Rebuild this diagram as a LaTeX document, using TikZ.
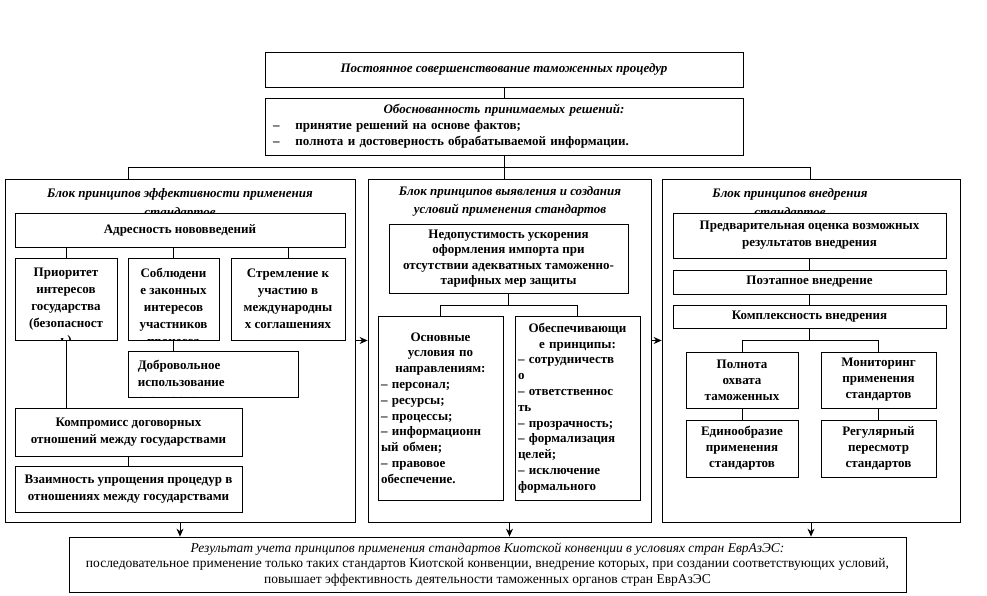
\documentclass[tikz,border=0pt]{standalone}
\usepackage{fontspec}
\setmainfont{Liberation Serif}
\usetikzlibrary{arrows.meta,positioning,calc}

\begin{document}
\begin{tikzpicture}[
    x=1pt, y=-1pt,
    box/.style={rectangle, draw=black, fill=white, line width=0.8pt, align=center, inner sep=2pt, font=\bfseries\fontsize{13}{17}\selectfont},
    frame/.style={rectangle, draw=black, line width=0.8pt, inner sep=0pt},
    blocktitle/.style={align=center, inner sep=0pt, font=\bfseries\itshape\fontsize{13}{18}\selectfont},
    txt/.style={align=center, inner sep=0pt, font=\bfseries\fontsize{13}{17}\selectfont},
    line/.style={draw=black, line width=0.8pt},
    arrow/.style={-{Stealth[length=8pt,width=7pt]}, line width=0.8pt, draw=black}
]
\useasboundingbox (0,0) rectangle (987,595);

% Top level
\node[box, minimum width=478, minimum height=35, font=\bfseries\itshape\fontsize{13}{17}\selectfont] (top) at (504,69.5) {Постоянное совершенствование таможенных процедур};
\node[box, minimum width=478, minimum height=57, text width=462, align=left, font=\bfseries\fontsize{13}{16}\selectfont] (obosn) at (504,126.5) {\centering{\itshape Обоснованность принимаемых решений:}\par\raggedright –\hspace{16pt}принятие решений на основе фактов;\\–\hspace{16pt}полнота и достоверность обрабатываемой информации.};
\draw[line] (top) -- (obosn);

% Blocks
\node[frame, minimum width=350, minimum height=343] (blkL) at (180,350.5) {};
\node[frame, minimum width=283, minimum height=343] (blkM) at (509.5,350.5) {};
\node[frame, minimum width=298, minimum height=343] (blkR) at (811,350.5) {};
\coordinate (hub) at (504,167);
\coordinate (hubL) at (128,167);
\coordinate (hubR) at (810,167);
\draw[line] (obosn.south) -- (hub);
\draw[line] (hubL) -- (hubR);
\draw[line] (hubL) -- (hubL |- blkL.north);
\draw[line] (hub) -- (hub |- blkM.north);
\draw[line] (hubR) -- (hubR |- blkR.north);
\node[blocktitle, font=\bfseries\itshape\fontsize{13}{19}\selectfont] (tL) at (180,203.5) {Блок принципов эффективности применения\\стандартов};
\node[blocktitle] (tM) at (510,201) {Блок принципов выявления и создания\\условий применения стандартов};
\node[blocktitle, font=\bfseries\itshape\fontsize{13}{19}\selectfont] (tR) at (790,203.5) {Блок принципов внедрения\\стандартов};

% Left block
\node[box, minimum width=330, minimum height=34] (adr) at (180,230) {Адресность нововведений};
\node[frame, fill=white, minimum width=102, minimum height=82] (prio) at (66,299) {};
\node[frame, fill=white, minimum width=91, minimum height=82] (sobl) at (173.5,299) {};
\node[box, minimum width=114, minimum height=82] (strem) at (288,299) {Стремление к\\участию в\\международны\\х соглашениях};
\begin{scope}
    \clip (prio.south west) rectangle (prio.north east);
    \node[txt] at ([yshift=-9pt]prio.center) {Приоритет\\интересов\\государства\\(безопасност\\ь)};
\end{scope}
\begin{scope}
    \clip (sobl.south west) rectangle (sobl.north east);
    \node[txt] at ([yshift=-9pt]sobl.center) {Соблюдени\\е законных\\интересов\\участников\\процесса};
\end{scope}
\draw[line] (prio.north) -- (prio.north |- adr.south);
\draw[line] (sobl.north) -- (sobl.north |- adr.south);
\draw[line] (strem.north) -- (strem.north |- adr.south);
\node[frame, fill=white, minimum width=170, minimum height=46] (dobr) at (213,374) {};
\begin{scope}
    \clip (dobr.south west) rectangle (dobr.north east);
    \node[txt, align=left, anchor=north west] at ([xshift=10pt, yshift=-9pt]dobr.north west) {Добровольное\\использование\\стандартов};
\end{scope}
\draw[line] (sobl.south) -- (sobl.south |- dobr.north);
\node[box, minimum width=227, minimum height=48] (komp) at (128.5,432) {Компромисс договорных\\отношений между государствами};
\draw[line] (prio.south) -- (prio.south |- komp.north);
\node[box, minimum width=227, minimum height=46] (vzai) at (128.5,489) {Взаимность упрощения процедур в\\отношениях между государствами};
\draw[line] (komp) -- (vzai);

% Middle block
\node[box, minimum width=239, minimum height=69, font=\bfseries\fontsize{13}{15.5}\selectfont] (nedop) at (508.5,258.5) {Недопустимость ускорения\\оформления импорта при\\отсутствии адекватных таможенно-\\тарифных мер защиты};
\node[box, minimum width=125, minimum height=184, text width=119, align=left, font=\bfseries\fontsize{13}{15.8}\selectfont] (osn) at (440.5,408) {\centering Основные\\условия по\\направлениям:\par\raggedright – персонал;\\– ресурсы;\\– процессы;\\– информационн\\ый обмен;\\– правовое\\обеспечение.};
\node[box, minimum width=125, minimum height=184, text width=119, align=left, font=\bfseries\fontsize{13}{15.8}\selectfont] (obes) at (577.5,408) {\centering Обеспечивающи\\е принципы:\par\raggedright – сотрудничеств\\о\\– ответственнос\\ть\\– прозрачность;\\– формализация\\целей;\\– исключение\\формального};
\draw[line] (nedop.south) -- ++(0,12) coordinate (mj);
\draw[line] (osn.north) |- (mj) -| (obes.north);

% Right block
\node[box, minimum width=273, minimum height=45] (pred) at (809.5,235.5) {Предварительная оценка возможных\\результатов внедрения};
\node[box, minimum width=273, minimum height=24] (poet) at (809.5,282) {Поэтапное внедрение};
\node[box, minimum width=273, minimum height=23] (kompl) at (809.5,316.5) {Комплексность внедрения};
\draw[line] (pred) -- (poet);
\draw[line] (poet) -- (kompl);
\node[box, minimum width=112, minimum height=56, font=\bfseries\fontsize{13}{16}\selectfont] (poln) at (742,380) {Полнота\\охвата\\таможенных};
\node[box, minimum width=115, minimum height=56, font=\bfseries\fontsize{13}{16}\selectfont] (monit) at (878.5,380) {Мониторинг\\применения\\стандартов};
\node[box, minimum width=112, minimum height=57, font=\bfseries\fontsize{13}{16}\selectfont] (edin) at (742,448.5) {Единообразие\\применения\\стандартов};
\node[box, minimum width=115, minimum height=57, font=\bfseries\fontsize{13}{16}\selectfont] (regul) at (878.5,448.5) {Регулярный\\пересмотр\\стандартов};
\draw[line] (kompl.south) -- ++(0,12) coordinate (rj);
\draw[line] (poln.north) |- (rj) -| (monit.north);
\draw[line] (poln) -- (edin);
\draw[line] (monit) -- (regul);

% Result
\node[box, minimum width=837, minimum height=55, font=\fontsize{13.5}{15.5}\selectfont] (res) at (487.5,564.5) {{\itshape Результат учета принципов применения стандартов Киотской конвенции в условиях стран ЕврАзЭС:}\\последовательное применение только таких стандартов Киотской конвенции, внедрение которых, при создании соответствующих условий,\\повышает эффективность деятельности таможенных органов стран ЕврАзЭС};

% Arrows
\draw[arrow] ([yshift=10pt]blkL.east) -- ([yshift=10pt]blkM.west);
\draw[arrow] ([yshift=10pt]blkM.east) -- ([yshift=10pt]blkR.west);
\draw[arrow] (blkL.south) -- (blkL.south |- res.north);
\draw[arrow] (blkM.south) -- (blkM.south |- res.north);
\draw[arrow] (blkR.south) -- (blkR.south |- res.north);
\end{tikzpicture}
\end{document}
